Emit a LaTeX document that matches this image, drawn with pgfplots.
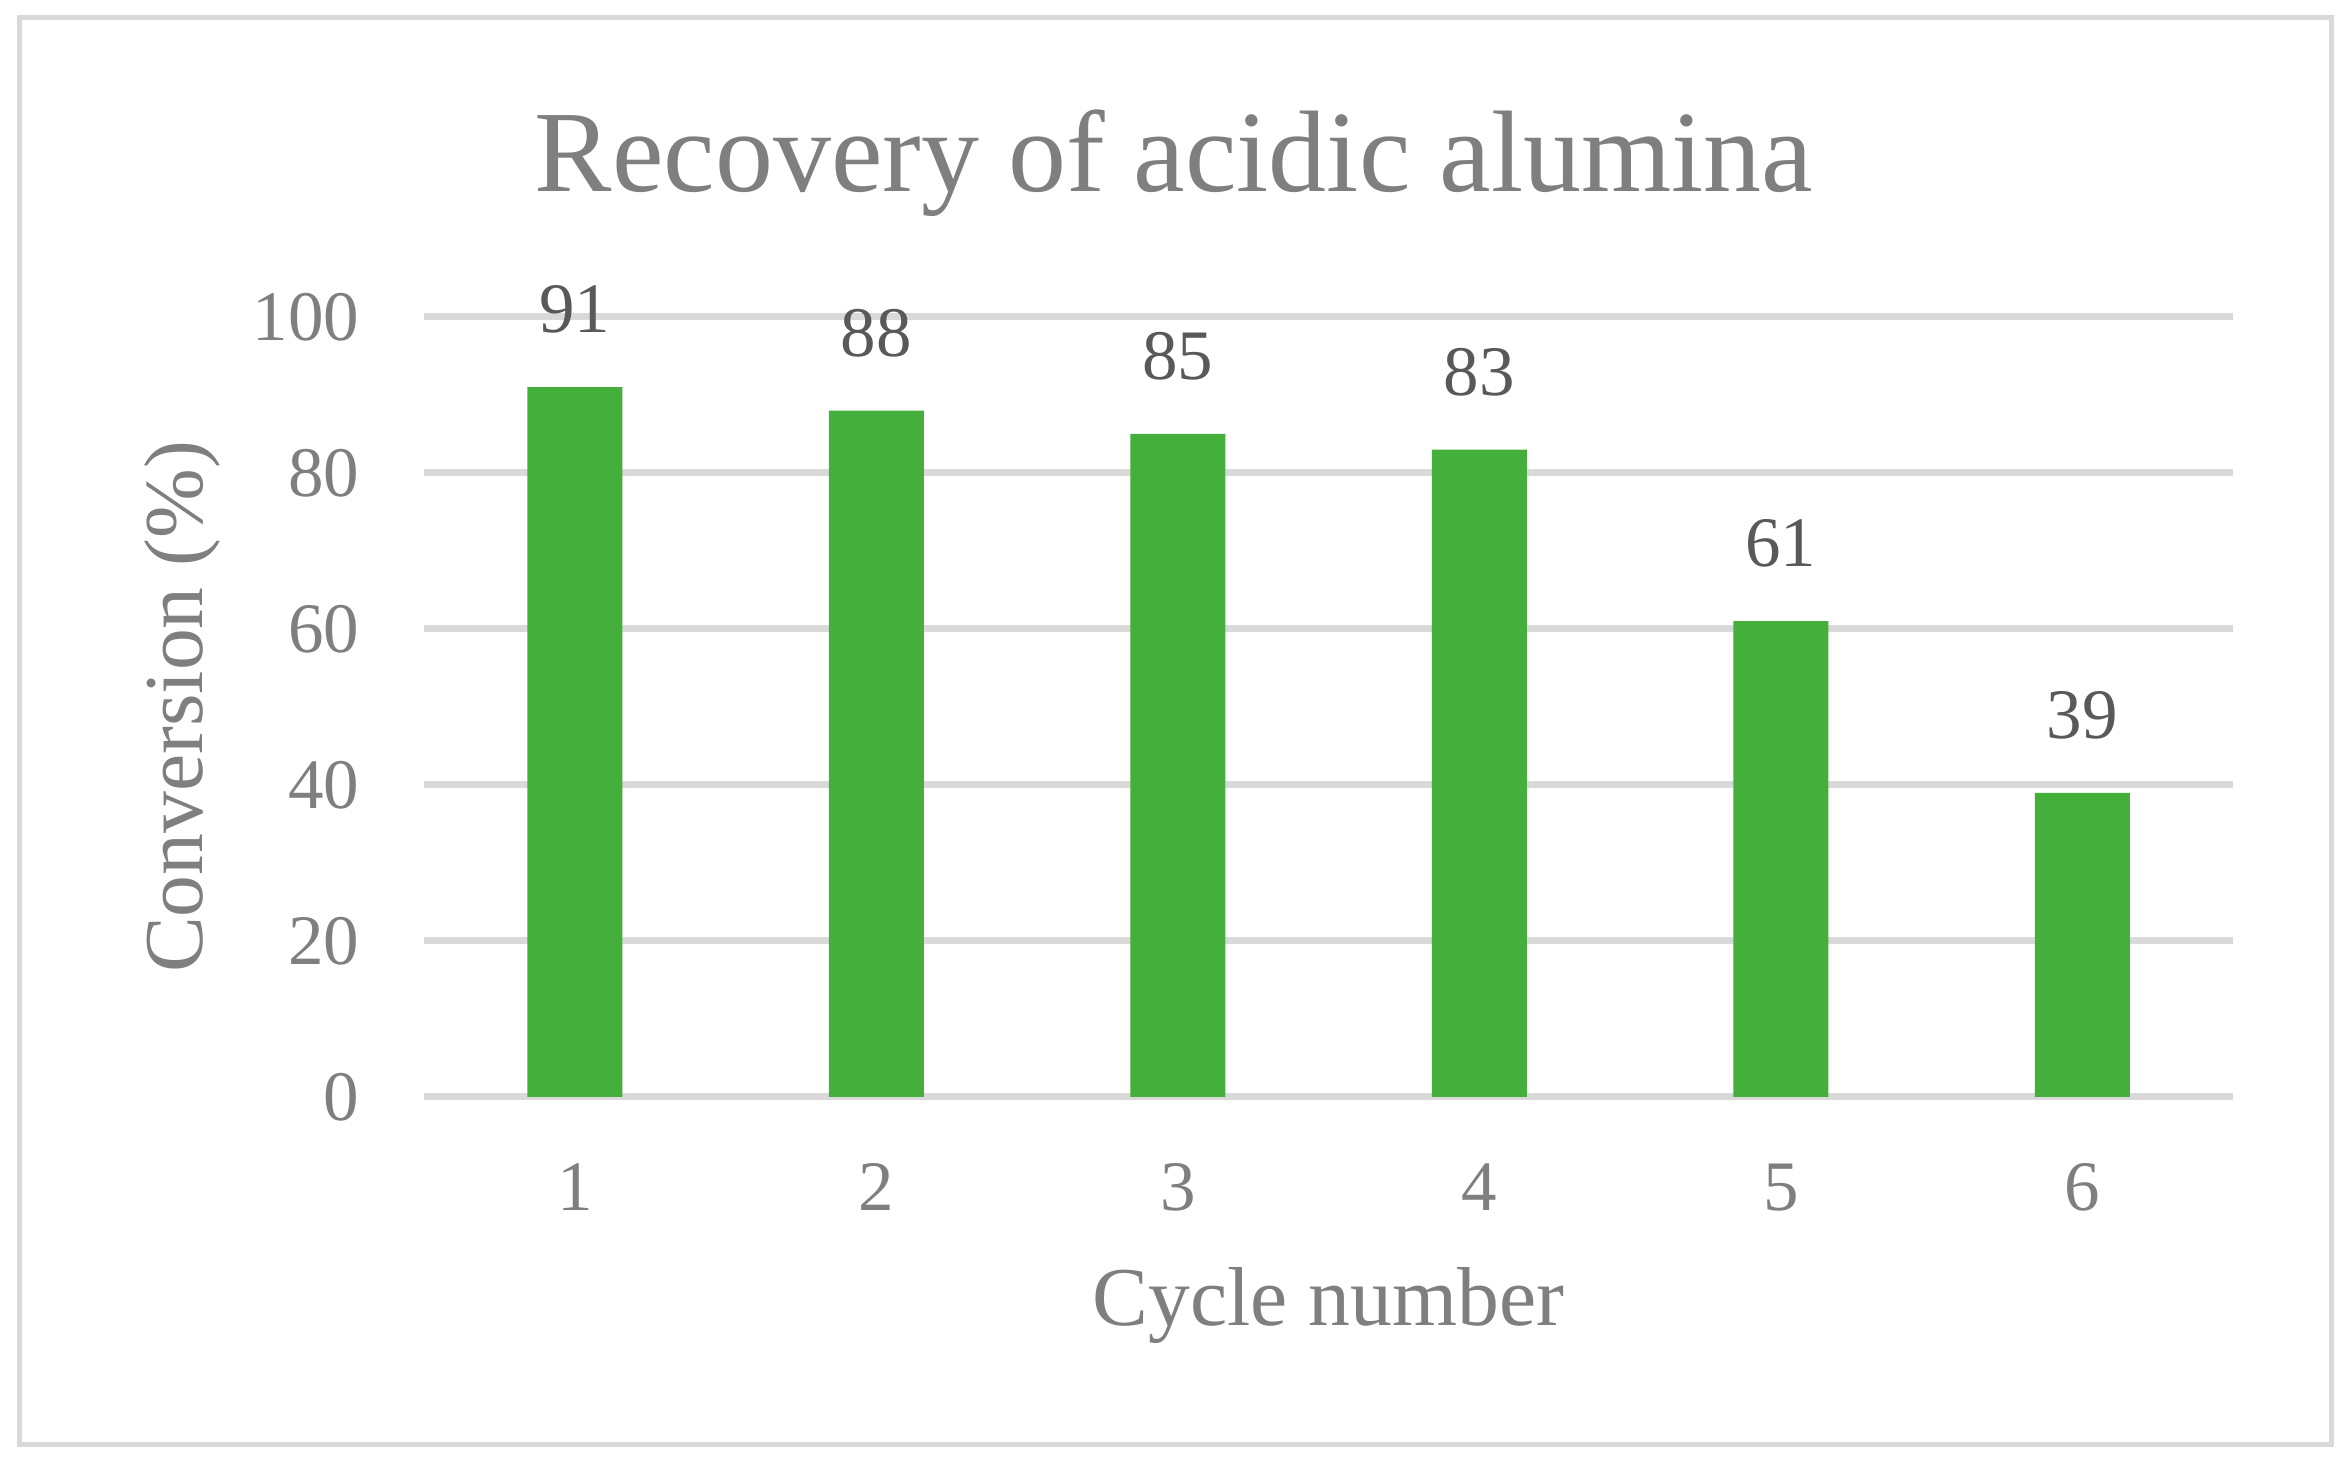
\documentclass[border=0pt]{standalone}
\usepackage{pgfplots}
\pgfplotsset{compat=1.18}
\usepackage{fontspec}
\setmainfont{Liberation Serif}
\definecolor{bargreen}{HTML}{45AF3C}
\definecolor{gridgray}{HTML}{D9D9D9}
\definecolor{txtgray}{HTML}{7F7F7F}
\definecolor{lblgray}{HTML}{595959}
\begin{document}
\begin{tikzpicture}
\path[fill=white] (0,0) rectangle (235mm,145.9mm);
\draw[gridgray, line width=0.5mm] (1.9mm,1.4mm) rectangle (233.1mm,144.1mm);
\begin{axis}[
  at={(42.4mm,36.2mm)}, anchor=south west,
  scale only axis, width=180.9mm, height=78mm,
  xmin=0.5, xmax=6.5, ymin=0, ymax=100,
  ytick={0,20,40,60,80,100},
  xtick={1,2,3,4,5,6},
  axis line style={draw=none},
  major tick length=0pt,
  ymajorgrids, grid style={gridgray, line width=0.7mm},
  /pgf/number format/assume math mode=true,
  tick label style={font=\fontsize{20.2}{24}\selectfont, text=txtgray, inner sep=0pt},
  yticklabel style={anchor=east, xshift=-6.4mm},
  xticklabel style={anchor=north, yshift=-6.6mm},
  every axis title shift=0pt,
  title={Recovery of acidic alumina},
  title style={at={(rel axis cs:0.4146,1.1603)}, anchor=base, font=\fontsize{33}{38}\selectfont, text=txtgray, inner sep=0pt},
  xlabel={Cycle number},
  xlabel style={at={(rel axis cs:0.5,-0.2936)}, anchor=base, font=\fontsize{23.8}{28}\selectfont, text=txtgray, inner sep=0pt},
  ylabel={Conversion (\%)},
  ylabel style={at={(rel axis cs:-0.1338,0.5)}, anchor=center, rotate=0, font=\fontsize{23.8}{28}\selectfont, text=txtgray, inner sep=0pt},
  ybar, bar width=9.5mm,
  nodes near coords,
  every node near coord/.append style={font=\fontsize{20.2}{24}\selectfont, text=lblgray, inner sep=0pt, anchor=south, yshift=5.3mm},
  clip=false,
]
\draw[gridgray, line width=0.7mm] (axis cs:0.5,0) -- (axis cs:6.5,0);
\addplot[fill=bargreen, draw=none] coordinates {(1,91) (2,88) (3,85) (4,83) (5,61) (6,39)};
\end{axis}
\end{tikzpicture}
\end{document}
